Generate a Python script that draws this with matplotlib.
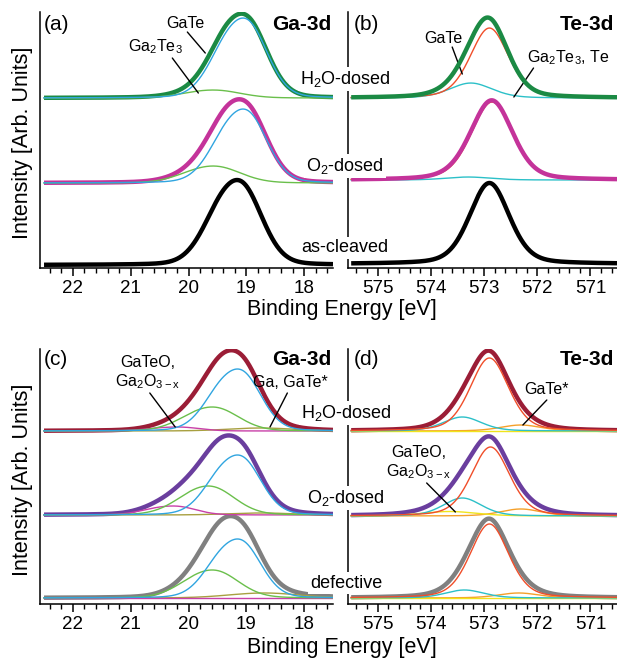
import numpy as np
import matplotlib.pyplot as plt
from matplotlib.ticker import MultipleLocator, FormatStrFormatter

plt.rcParams['font.family'] = ['Liberation Sans', 'DejaVu Sans']
plt.rcParams['mathtext.default'] = 'regular'

# energy windows (eV)
ga_window = (22.5, 17.5)
te_window = (575.5, 570.5)

top_labels = ['H$_2$O-dosed', 'O$_2$-dosed', 'as-cleaved']
bot_labels = ['H$_2$O-dosed', 'O$_2$-dosed', 'defective']

top_total_colors = ['#1b8a44', '#c4339a', '#000000']
bot_total_colors = ['#9b1d36', '#6a3e9e', '#808080']

# each list: H2O-dosed, O2-dosed, as-cleaved/defective
# (a) Ga-3d  (positions = 3d5/2 line, heights in arb. units)
a_offset = [170, 85, 3]
a_show_fit = [True, True, False]
a_gate_pos = [18.92, 18.92, 19.02]
a_gate_h = [80, 74, 85]
a_gate_w = [0.78, 0.78, 0.80]
a_ga2te3_pos = [19.42, 19.42, 19.42]
a_ga2te3_h = [8, 17, 0]
a_ga2te3_w = [0.95, 0.95, 0.95]

# (b) Te-3d
b_offset = [170, 88, 4]
b_show_fit = [True, True, False]
b_gate_pos = [572.90, 572.85, 572.90]
b_gate_h = [70, 78, 81]
b_gate_w = [0.85, 0.92, 0.88]
b_ga2te3_pos = [573.25, 573.30, 573.30]
b_ga2te3_h = [15, 3, 0]
b_ga2te3_w = [0.95, 1.0, 1.0]

# (c) Ga-3d
c_offset = [173, 89, 6]
c_gate_pos = [19.02, 19.02, 19.02]
c_gate_h = [62, 60, 59]
c_gate_w = [0.76, 0.76, 0.76]
c_ga2te3_pos = [19.44, 19.51, 19.44]
c_ga2te3_h = [24, 29, 28]
c_ga2te3_w = [0.9, 0.9, 0.9]
c_oxide_pos = [20.07, 20.14, 20.10]
c_oxide_h = [4, 9, 0]
c_oxide_w = [0.75, 0.75, 0.75]
c_metal_pos = [18.58, 18.58, 18.52]
c_metal_h = [3, 2, 5]
c_metal_w = [1.2, 1.2, 1.3]

# (d) Te-3d
d_offset = [173, 88, 6]
d_gate_pos = [572.90, 572.88, 572.90]
d_gate_h = [73, 69, 74]
d_gate_w = [0.85, 0.85, 0.85]
d_ga2te3_pos = [573.41, 573.41, 573.37]
d_ga2te3_h = [14, 18, 8]
d_ga2te3_w = [0.85, 0.85, 0.85]
d_gatestar_pos = [572.31, 572.31, 572.35]
d_gatestar_h = [6, 7, 5]
d_gatestar_w = [0.9, 0.9, 0.9]
d_oxide_pos = [573.65, 573.65, 573.65]
d_oxide_h = [0, 4.5, 0]
d_oxide_w = [1.2, 1.2, 1.2]


def pvoigt(x, c, w, eta):
    u = (x - c) / w
    return eta / (1 + 4 * u ** 2) + (1 - eta) * np.exp(-4 * np.log(2) * u ** 2)


def ga_line(x, c, h, w):
    # 3d5/2 + 3d3/2 doublet
    y = pvoigt(x, c, w, 0.15) + 0.67 * pvoigt(x, c + 0.45, w, 0.15)
    return h * y / y.max()


def te_line(x, c, h, w):
    y = pvoigt(x, c, w, 0.3)
    return h * y / y.max()


def draw(ax, x, offsets, comps, total_colors, show_fit, total_z):
    for i, off in enumerate(offsets):
        curves = [(f(x, p[i], hh[i], ww[i]), col) for f, p, hh, ww, col in comps]
        total = sum(c for c, _ in curves)
        ax.plot(x, off + total, color=total_colors[i], lw=3.2, zorder=total_z,
                solid_capstyle='butt')
        if show_fit[i]:
            for y, col in curves:
                ax.plot(x, off + y, color=col, lw=1.0, zorder=3)


fig = plt.figure(figsize=(6.17, 6.58), dpi=100)
ax_a = fig.add_axes([0.0648, 0.5927, 0.4749, 0.389])
ax_b = fig.add_axes([0.564, 0.5927, 0.436, 0.389])
ax_c = fig.add_axes([0.0648, 0.0821, 0.4749, 0.3875])
ax_d = fig.add_axes([0.564, 0.0821, 0.436, 0.3875])

xga = np.linspace(ga_window[0], ga_window[1], 600)
xte = np.linspace(te_window[0], te_window[1], 600)

blue, green, red, cyan = '#30a5e0', '#6abf4b', '#f04e2a', '#2cc0c8'
magenta, olive, orange, yellow = '#c840a8', '#a8a040', '#f5a02a', '#f0e41c'

draw(ax_a, xga, a_offset,
     [(ga_line, a_ga2te3_pos, a_ga2te3_h, a_ga2te3_w, green),
      (ga_line, a_gate_pos, a_gate_h, a_gate_w, blue)],
     top_total_colors, a_show_fit, 2)
draw(ax_b, xte, b_offset,
     [(te_line, b_ga2te3_pos, b_ga2te3_h, b_ga2te3_w, cyan),
      (te_line, b_gate_pos, b_gate_h, b_gate_w, red)],
     top_total_colors, b_show_fit, 4)
draw(ax_c, xga, c_offset,
     [(ga_line, c_metal_pos, c_metal_h, c_metal_w, olive),
      (ga_line, c_oxide_pos, c_oxide_h, c_oxide_w, magenta),
      (ga_line, c_ga2te3_pos, c_ga2te3_h, c_ga2te3_w, green),
      (ga_line, c_gate_pos, c_gate_h, c_gate_w, blue)],
     bot_total_colors, [True, True, True], 2)
draw(ax_d, xte, d_offset,
     [(te_line, d_gatestar_pos, d_gatestar_h, d_gatestar_w, orange),
      (te_line, d_oxide_pos, d_oxide_h, d_oxide_w, yellow),
      (te_line, d_ga2te3_pos, d_ga2te3_h, d_ga2te3_w, cyan),
      (te_line, d_gate_pos, d_gate_h, d_gate_w, red)],
     bot_total_colors, [True, True, True], 2)

for ax, lim, yl in [(ax_a, (22.57, 17.5), 256), (ax_b, (575.56, 570.5), 256),
                    (ax_c, (22.57, 17.5), 255), (ax_d, (575.56, 570.5), 255)]:
    ax.set_xlim(*lim)
    ax.set_ylim(0, yl)
    for s in ['top', 'right']:
        ax.spines[s].set_visible(False)
    ax.spines['left'].set_linewidth(1.1)
    ax.spines['bottom'].set_linewidth(1.1)
    ax.set_yticks([])
    ax.xaxis.set_major_locator(MultipleLocator(1))
    ax.xaxis.set_minor_locator(MultipleLocator(0.2))
    ax.xaxis.set_major_formatter(FormatStrFormatter('%d'))
    ax.tick_params(axis='x', which='major', length=6, width=1.1, labelsize=13.5, pad=2.5)
    ax.tick_params(axis='x', which='minor', length=3.5, width=1.0)

# panel tags and core levels
for ax, tag, core, ty in [(ax_a, '(a)', 'Ga-3d', 0.95), (ax_b, '(b)', 'Te-3d', 0.95),
                          (ax_c, '(c)', 'Ga-3d', 0.957), (ax_d, '(d)', 'Te-3d', 0.957)]:
    ax.text(0.012 if ax in (ax_a, ax_c) else 0.02, ty, tag, transform=ax.transAxes,
            fontsize=15, va='center', ha='left')
    ax.text(0.995 if ax in (ax_a, ax_c) else 0.99, ty, core, transform=ax.transAxes,
            fontsize=15, fontweight='bold', va='center', ha='right')

# condition labels sitting across the panel gap
for lab, y in zip(top_labels, [79, 166, 248]):
    fig.text(345 / 617, 1 - y / 658, lab, ha='center', va='center', fontsize=13,
             zorder=10, bbox=dict(fc='white', ec='none', pad=1.5))
for lab, y in zip(bot_labels, [413, 498, 583]):
    fig.text(346 / 617, 1 - y / 658, lab, ha='center', va='center', fontsize=13,
             zorder=10, bbox=dict(fc='white', ec='none', pad=1.5))

fig.text(342 / 617, 1 - 309 / 658, 'Binding Energy [eV]', ha='center', va='center', fontsize=15.5)
fig.text(342 / 617, 1 - 648 / 658, 'Binding Energy [eV]', ha='center', va='center', fontsize=15.5)
fig.text(23 / 617, 1 - 143 / 658, 'Intensity [Arb. Units]', rotation=90,
         ha='center', va='center', fontsize=15.5)
fig.text(23 / 617, 1 - 480 / 658, 'Intensity [Arb. Units]', rotation=90,
         ha='center', va='center', fontsize=15.5)

# component annotations
lp = dict(arrowstyle='-', color='black', lw=1.0, shrinkA=0, shrinkB=0)
ax_a.text(20.06, 245, 'GaTe', ha='center', va='center', fontsize=11.5)
ax_a.annotate('', xy=(19.71, 215), xytext=(20.02, 236), arrowprops=lp)
ax_a.text(20.58, 221, 'Ga$_2$Te$_3$', ha='center', va='center', fontsize=11.5)
ax_a.annotate('', xy=(19.83, 175), xytext=(20.28, 210), arrowprops=lp)

ax_b.text(573.77, 230, 'GaTe', ha='center', va='center', fontsize=11.5)
ax_b.annotate('', xy=(573.41, 194), xytext=(573.6, 221), arrowprops=lp)
ax_b.text(571.41, 210, 'Ga$_2$Te$_3$, Te', ha='center', va='center', fontsize=11.5)
ax_b.annotate('', xy=(572.44, 171), xytext=(572.07, 200), arrowprops=lp)

ax_c.text(20.7, 231, 'GaTeO,\nGa$_2$O$_{3-x}$', ha='center', va='center', fontsize=11.5,
          linespacing=1.1)
ax_c.annotate('', xy=(20.23, 177), xytext=(20.67, 211), arrowprops=lp)
ax_c.text(18.24, 221, 'Ga, GaTe*', ha='center', va='center', fontsize=11.5)
ax_c.annotate('', xy=(18.59, 177), xytext=(18.29, 211), arrowprops=lp)

ax_d.text(571.82, 214, 'GaTe*', ha='center', va='center', fontsize=11.5)
ax_d.annotate('', xy=(572.27, 179), xytext=(571.82, 204), arrowprops=lp)
ax_d.text(574.23, 141, 'GaTeO,\nGa$_2$O$_{3-x}$', ha='center', va='center', fontsize=11.5,
          linespacing=1.1)
ax_d.annotate('', xy=(573.54, 92), xytext=(574.08, 121), arrowprops=lp)

fig.savefig('out.png', dpi=100)
